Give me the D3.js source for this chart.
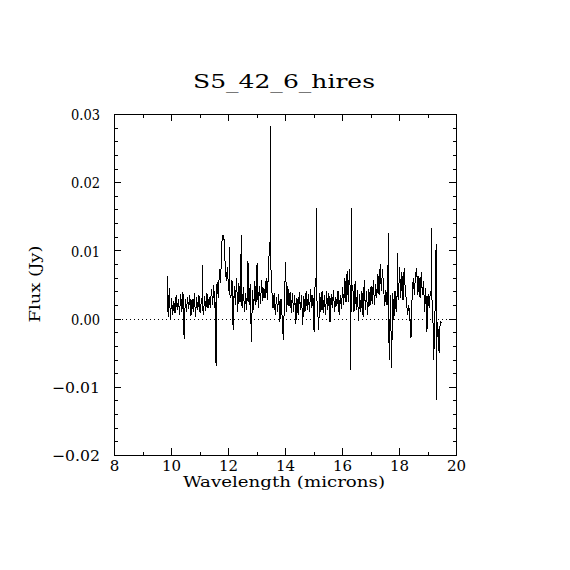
<!DOCTYPE html>
<html>
<head>
<meta charset="utf-8">
<script src="https://cdn.jsdelivr.net/npm/d3@7/dist/d3.min.js"></script>
<style>
  html, body { margin: 0; padding: 0; background: #fff; }
  svg { display: block; }
  text { font-family: "DejaVu Serif", serif; fill: #000; }
</style>
</head>
<body>
<svg id="chart" width="570" height="570"></svg>
<script>
// ---- data ----
const title = "S5_42_6_hires";
const xLabel = "Wavelength (microns)";
const yLabel = "Flux (Jy)";

const xMajorTicks = [8, 10, 12, 14, 16, 18, 20];
const xMinorTicks = [9, 11, 13, 15, 17, 19];
const yMajorTicks = [-0.02, -0.01, 0.00, 0.01, 0.02, 0.03];
const yMinorTicks = [-0.018, -0.016, -0.014, -0.012, -0.008, -0.006, -0.004, -0.002,
                     0.002, 0.004, 0.006, 0.008, 0.012, 0.014, 0.016, 0.018,
                     0.022, 0.024, 0.026, 0.028];

const wavelength = [
  9.86, 9.90, 9.94, 9.98, 10.02, 10.06, 10.10, 10.14, 10.18, 10.22,
  10.26, 10.30, 10.34, 10.38, 10.42, 10.46, 10.50, 10.54, 10.58, 10.62,
  10.66, 10.70, 10.74, 10.78, 10.82, 10.86, 10.90, 10.94, 10.98, 11.02,
  11.06, 11.09, 11.10, 11.11, 11.14, 11.18, 11.22, 11.26, 11.30, 11.34, 11.38, 11.42,
  11.46, 11.50, 11.54, 11.57, 11.58, 11.59, 11.62, 11.66, 11.70, 11.74, 11.78, 11.82,
  11.86, 11.90, 11.94, 11.98, 12.02, 12.05, 12.06, 12.07, 12.10, 12.14, 12.18, 12.22,
  12.26, 12.30, 12.34, 12.38, 12.42, 12.45, 12.46, 12.47, 12.50, 12.54, 12.58, 12.62,
  12.66, 12.70, 12.74, 12.78, 12.82, 12.86, 12.90, 12.94, 12.98, 13.02,
  13.06, 13.10, 13.14, 13.18, 13.22, 13.26, 13.30, 13.34, 13.38, 13.42,
  13.46, 13.49, 13.50, 13.51, 13.54, 13.58, 13.62, 13.66, 13.70, 13.74, 13.78, 13.82,
  13.86, 13.90, 13.94, 13.98, 14.02, 14.06, 14.10, 14.14, 14.18, 14.22,
  14.26, 14.30, 14.34, 14.38, 14.42, 14.46, 14.50, 14.54, 14.58, 14.62,
  14.66, 14.70, 14.74, 14.78, 14.82, 14.86, 14.90, 14.94, 14.98, 15.02,
  15.06, 15.09, 15.10, 15.11, 15.14, 15.18, 15.22, 15.26, 15.30, 15.34, 15.38, 15.42,
  15.46, 15.50, 15.54, 15.58, 15.62, 15.66, 15.70, 15.74, 15.78, 15.82,
  15.86, 15.90, 15.94, 15.98, 16.02, 16.06, 16.10, 16.14, 16.18, 16.22,
  16.26, 16.29, 16.30, 16.31, 16.33, 16.34, 16.35, 16.38, 16.42, 16.46, 16.50, 16.54, 16.58, 16.62,
  16.66, 16.70, 16.74, 16.78, 16.82, 16.86, 16.90, 16.94, 16.98, 17.02,
  17.06, 17.10, 17.14, 17.18, 17.22, 17.26, 17.30, 17.34, 17.38, 17.42,
  17.46, 17.50, 17.54, 17.58, 17.61, 17.62, 17.63, 17.66, 17.70, 17.74, 17.78, 17.82,
  17.86, 17.90, 17.93, 17.94, 17.95, 17.98, 18.02, 18.06, 18.10, 18.14, 18.18, 18.22,
  18.26, 18.30, 18.34, 18.38, 18.42, 18.46, 18.50, 18.54, 18.58, 18.62,
  18.66, 18.70, 18.74, 18.78, 18.82, 18.86, 18.90, 18.94, 18.98, 19.02,
  19.06, 19.10, 19.13, 19.14, 19.15, 19.18, 19.22, 19.26, 19.29, 19.30, 19.31, 19.33,
  19.36, 19.38, 19.40, 19.42, 19.44, 19.46, 19.48
];

const flux = [
  0.0062, 0.0002, 0.0045, -0.0002, 0.0030, 0.0005, 0.0026, 0.0008, 0.0034, 0.0012,
  0.0029, 0.0006, 0.0036, 0.0010, 0.0039, -0.0030, 0.0028, 0.0009, 0.0032, 0.0014,
  0.0035, 0.0004, 0.0029, 0.0010, 0.0037, 0.0003, 0.0031, 0.0012, 0.0035, 0.0008,
  0.0024, 0.0030, 0.0079, 0.0015, 0.0006, 0.0033, 0.0011, 0.0038, 0.0015, 0.0032, 0.0016, 0.0044,
  0.0020, 0.0049, 0.0015, 0.0025, -0.0069, 0.0040, 0.0054, 0.0030, 0.0072, 0.0052, 0.0110, 0.0123,
  0.0116, 0.0080, 0.0055, 0.0075, 0.0042, 0.0040, 0.0105, 0.0035, 0.0030, 0.0056, -0.0017, 0.0048,
  0.0020, 0.0060, 0.0010, 0.0052, 0.0024, 0.0030, 0.0123, 0.0025, 0.0015, 0.0046, 0.0009, 0.0038,
  0.0012, 0.0085, 0.0020, 0.0050, -0.0034, 0.0042, 0.0013, 0.0055, 0.0020, 0.0082,
  0.0015, 0.0048, 0.0022, 0.0056, 0.0026, 0.0045, 0.0030, 0.0060, 0.0028, 0.0072,
  0.0112, 0.0100, 0.0283, 0.0050, 0.0040, 0.0015, 0.0038, 0.0005, 0.0032, 0.0010, 0.0036, -0.0005,
  0.0028, 0.0002, -0.0031, 0.0025, 0.0083, 0.0010, 0.0048, 0.0018, 0.0039, 0.0008,
  0.0038, 0.0010, 0.0035, -0.0008, 0.0030, 0.0006, 0.0039, 0.0012, 0.0034, -0.0010,
  0.0033, 0.0010, 0.0040, 0.0013, 0.0036, 0.0009, 0.0044, 0.0015, 0.0035, -0.0020,
  0.0060, 0.0050, 0.0162, 0.0030, 0.0020, -0.0017, 0.0038, 0.0010, 0.0040, 0.0008, 0.0035, 0.0005,
  0.0040, 0.0012, 0.0038, -0.0005, 0.0036, 0.0015, 0.0042, 0.0009, 0.0032, 0.0018,
  0.0041, 0.0006, 0.0034, 0.0014, 0.0046, 0.0020, 0.0060, 0.0024, 0.0070, 0.0025,
  0.0072, 0.0040, -0.0075, 0.0000, 0.0030, 0.0162, 0.0050, 0.0046, 0.0010, 0.0055, 0.0012, 0.0042, -0.0003, 0.0036,
  0.0010, 0.0040, 0.0003, 0.0056, 0.0012, 0.0040, 0.0005, 0.0044, 0.0018, 0.0048,
  0.0022, 0.0056, 0.0020, 0.0050, 0.0030, 0.0065, 0.0035, 0.0080, 0.0040, 0.0073,
  0.0045, 0.0018, 0.0042, 0.0020, 0.0035, 0.0125, 0.0010, -0.0060, 0.0035, -0.0072, 0.0038, -0.0002,
  0.0040, 0.0010, 0.0030, 0.0096, 0.0035, 0.0028, 0.0075, 0.0030, 0.0068, 0.0027, 0.0074, 0.0042,
  0.0026, 0.0005, 0.0020, 0.0002, -0.0029, 0.0032, 0.0060, 0.0035, 0.0065, 0.0074,
  0.0034, 0.0062, 0.0030, 0.0068, 0.0034, 0.0055, 0.0010, 0.0045, -0.0019, 0.0036,
  0.0015, 0.0040, 0.0035, 0.0133, 0.0030, 0.0020, -0.0060, 0.0010, 0.0020, 0.0109, -0.0119, -0.0030,
  -0.0005, -0.0048, -0.0015, -0.0050, -0.0010, -0.0003, -0.0006
];

// ---- layout ----
const svg = d3.select("#chart");
const pL = 114, pR = 456, pT = 114, pB = 455;
const x = d3.scaleLinear().domain([8, 20]).range([pL, pR]);
const y = d3.scaleLinear().domain([-0.02, 0.03]).range([pB, pT]);
const majorLen = 7, minorLen = 3.5;
const fmtY = d3.format(".2f");

function styleAxis(g) {
  g.selectAll("path.domain").attr("stroke", "#000").attr("stroke-width", 1).attr("shape-rendering", "crispEdges");
  g.selectAll(".tick line").attr("stroke", "#000").attr("stroke-width", 1).attr("shape-rendering", "crispEdges");
  g.selectAll(".tick text").attr("font-family", "DejaVu Serif").attr("font-size", 15).attr("fill", "#000");
}

// minor ticks (all four sides)
svg.append("g").attr("transform", `translate(0,${pB})`)
  .call(d3.axisBottom(x).tickValues(xMinorTicks).tickSize(-minorLen).tickSizeOuter(0).tickFormat(""))
  .call(styleAxis);
svg.append("g").attr("transform", `translate(0,${pT})`)
  .call(d3.axisTop(x).tickValues(xMinorTicks).tickSize(-minorLen).tickSizeOuter(0).tickFormat(""))
  .call(styleAxis);
svg.append("g").attr("transform", `translate(${pL},0)`)
  .call(d3.axisLeft(y).tickValues(yMinorTicks).tickSize(-minorLen).tickSizeOuter(0).tickFormat(""))
  .call(styleAxis);
svg.append("g").attr("transform", `translate(${pR},0)`)
  .call(d3.axisRight(y).tickValues(yMinorTicks).tickSize(-minorLen).tickSizeOuter(0).tickFormat(""))
  .call(styleAxis);

// major ticks
const gxb = svg.append("g").attr("transform", `translate(0,${pB})`)
  .call(d3.axisBottom(x).tickValues(xMajorTicks).tickSize(-majorLen).tickSizeOuter(0).tickPadding(5).tickFormat(d3.format("d")))
  .call(styleAxis);
gxb.selectAll(".tick text").attr("dy", "0.71em");
svg.append("g").attr("transform", `translate(0,${pT})`)
  .call(d3.axisTop(x).tickValues(xMajorTicks).tickSize(-majorLen).tickSizeOuter(0).tickFormat(""))
  .call(styleAxis);
const gyl = svg.append("g").attr("transform", `translate(${pL},0)`)
  .call(d3.axisLeft(y).tickValues(yMajorTicks).tickSize(-majorLen).tickSizeOuter(0).tickPadding(14).tickFormat(fmtY))
  .call(styleAxis);
gyl.selectAll(".tick text")
  .attr("textLength", d => d < 0 ? 48 : 29)
  .attr("lengthAdjust", "spacingAndGlyphs")
  .attr("dy", "0.38em");
svg.append("g").attr("transform", `translate(${pR},0)`)
  .call(d3.axisRight(y).tickValues(yMajorTicks).tickSize(-majorLen).tickSizeOuter(0).tickFormat(""))
  .call(styleAxis);

// zero dotted line
svg.append("line")
  .attr("x1", x(8)).attr("x2", x(20))
  .attr("y1", Math.round(y(0)) + 0.5).attr("y2", Math.round(y(0)) + 0.5)
  .attr("stroke", "#000").attr("stroke-width", 1)
  .attr("stroke-dasharray", "1,3");

// spectrum
const pts = wavelength.map((w, i) => [w, flux[i]]);
svg.append("path")
  .datum(pts)
  .attr("fill", "none")
  .attr("stroke", "#000")
  .attr("stroke-width", 1)
  .attr("stroke-linejoin", "miter")
  .attr("shape-rendering", "crispEdges")
  .attr("d", d3.line().x(d => x(d[0])).y(d => y(d[1])));

// frame on top
svg.append("rect")
  .attr("x", pL + 0.5).attr("y", pT + 0.5)
  .attr("width", pR - pL).attr("height", pB - pT)
  .attr("fill", "none").attr("stroke", "#000").attr("stroke-width", 1)
  .attr("shape-rendering", "crispEdges");

// title & labels
svg.append("text")
  .attr("x", 284).attr("y", 88)
  .attr("text-anchor", "middle")
  .attr("font-size", 19)
  .attr("textLength", 182).attr("lengthAdjust", "spacingAndGlyphs")
  .text(title);

svg.append("text")
  .attr("x", 284).attr("y", 487)
  .attr("text-anchor", "middle")
  .attr("font-size", 15)
  .attr("textLength", 202).attr("lengthAdjust", "spacingAndGlyphs")
  .text(xLabel);

svg.append("text")
  .attr("transform", "translate(40,284) rotate(-90)")
  .attr("text-anchor", "middle")
  .attr("font-size", 15)
  .attr("textLength", 77).attr("lengthAdjust", "spacingAndGlyphs")
  .text(yLabel);
</script>
</body>
</html>
